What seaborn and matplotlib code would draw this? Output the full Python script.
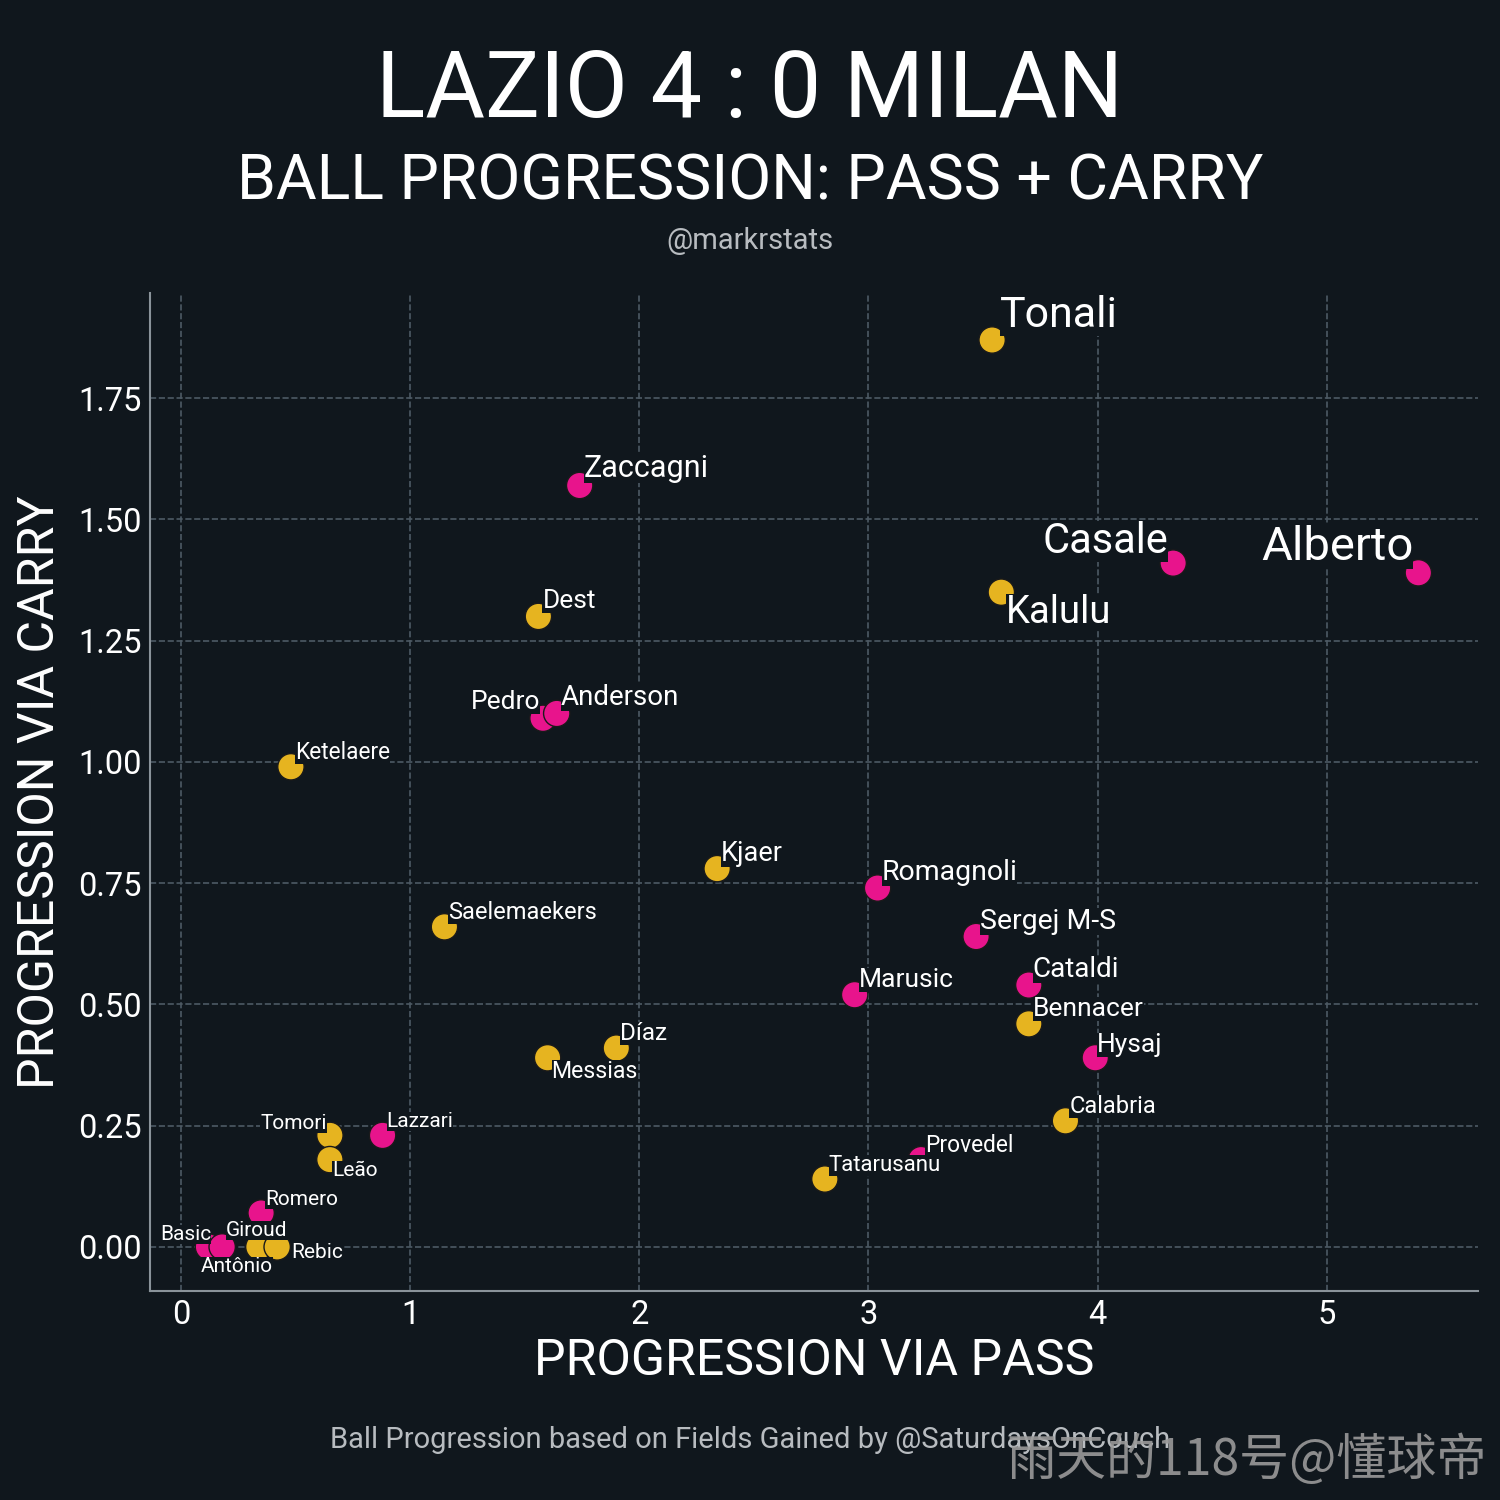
import numpy as np
import pandas as pd
import matplotlib
matplotlib.use('Agg')
import matplotlib.pyplot as plt
import seaborn as sns

###################################################################################
#Data

players = ['Tonali', 'Zaccagni', 'Casale', 'Alberto', 'Kalulu', 'Dest', 'Pedro',
           'Anderson', 'Ketelaere', 'Kjaer', 'Romagnoli', 'Saelemaekers', 'Sergej M-S',
           'Cataldi', 'Marusic', 'Bennacer', 'Díaz', 'Messias', 'Hysaj', 'Calabria',
           'Provedel', 'Tatarusanu', 'Tomori', 'Leão', 'Lazzari', 'Romero', 'Basic',
           'Antônio', 'Giroud', 'Rebic']
via_pass = [3.54, 1.74, 4.33, 5.40, 3.58, 1.56, 1.58,
            1.64, 0.48, 2.34, 3.04, 1.15, 3.47,
            3.70, 2.94, 3.70, 1.90, 1.60, 3.99, 3.86,
            3.23, 2.81, 0.65, 0.65, 0.88, 0.35, 0.12,
            0.18, 0.34, 0.42]
via_carry = [1.87, 1.57, 1.41, 1.39, 1.35, 1.30, 1.09,
             1.10, 0.99, 0.78, 0.74, 0.66, 0.64,
             0.54, 0.52, 0.46, 0.41, 0.39, 0.39, 0.26,
             0.18, 0.14, 0.23, 0.18, 0.23, 0.07, 0.0,
             0.0, 0.0, 0.0]
team = ['Milan', 'Lazio', 'Lazio', 'Lazio', 'Milan', 'Milan', 'Lazio',
        'Lazio', 'Milan', 'Milan', 'Lazio', 'Milan', 'Lazio',
        'Lazio', 'Lazio', 'Milan', 'Milan', 'Milan', 'Lazio', 'Milan',
        'Lazio', 'Milan', 'Milan', 'Milan', 'Lazio', 'Lazio', 'Lazio',
        'Lazio', 'Milan', 'Milan']

df = pd.DataFrame({'player': players, 'pass': via_pass, 'carry': via_carry, 'team': team})

###################################################################################
#Label styling: font size and (dx, dy in pixels, ha)

sizes = {'Tonali': 31, 'Alberto': 34, 'Casale': 30, 'Kalulu': 27.5,
         'Zaccagni': 22, 'Romagnoli': 20.5, 'Sergej M-S': 20.5, 'Anderson': 20,
         'Cataldi': 20, 'Kjaer': 19.5, 'Dest': 19,
         'Ketelaere': 16.3, 'Saelemaekers': 17, 'Díaz': 17.5, 'Messias': 16.6,
         'Calabria': 17, 'Provedel': 16.4, 'Tatarusanu': 16,
         'Tomori': 15, 'Lazzari': 15, 'Leão': 15, 'Romero': 15, 'Basic': 15,
         'Giroud': 15, 'Antônio': 15, 'Rebic': 15}
offsets = {'Tonali': (8, 13, 'left'), 'Alberto': (-5, 13, 'right'),
           'Casale': (-5, 10, 'right'), 'Kalulu': (5, -31, 'left'),
           'Pedro': (-3, 9, 'right'), 'Messias': (4, -20, 'left'),
           'Tomori': (-3, 6, 'right'), 'Leão': (2, -16, 'left'),
           'Basic': (3, 7, 'right'), 'Giroud': (-2, 11, 'center'),
           'Antônio': (15, -25, 'center'), 'Rebic': (14, -11, 'left'),
           'Hysaj': (2, 6, 'left')}

bg = '#10171d'
yellow = '#e6b420'
pink = '#e8148c'

sns.set_style('dark')
plt.rcParams['font.family'] = ['Roboto', 'DejaVu Sans']
plt.rcParams['text.color'] = 'white'

fig = plt.figure(figsize=(15, 15), dpi=100, facecolor=bg)
ax = fig.add_axes([0.1, 0.1393, 0.8853, 0.6654])
ax.set_facecolor(bg)

sns.scatterplot(data=df, x='pass', y='carry', hue='team',
                palette={'Lazio': pink, 'Milan': yellow},
                s=360, edgecolor='#1a1a1a', linewidth=1, legend=False, ax=ax, zorder=3)

for _, r in df.iterrows():
    fs = sizes.get(r['player'], 19)
    dx, dy, ha = offsets.get(r['player'], (4, 8, 'left'))
    ax.annotate(r['player'], (r['pass'], r['carry']), xytext=(dx, dy),
                textcoords='offset pixels', ha=ha, va='baseline',
                fontsize=fs, color='white', zorder=4,
                bbox=dict(facecolor=bg, edgecolor='none', pad=0))

ax.set_xlim(-0.135, 5.66)
ax.set_ylim(-0.091, 1.967)
ax.set_xticks(range(0, 6))
ax.set_yticks([0, 0.25, 0.5, 0.75, 1.0, 1.25, 1.5, 1.75])
ax.set_yticklabels(['0.00', '0.25', '0.50', '0.75', '1.00', '1.25', '1.50', '1.75'])
ax.tick_params(colors='white', labelsize=23.5, length=0, pad=6)
ax.grid(True, color='#4d5a64', linestyle='--', linewidth=1.2)
for side in ['top', 'right']:
    ax.spines[side].set_visible(False)
for side in ['left', 'bottom']:
    ax.spines[side].set_visible(True)
    ax.spines[side].set_color('#8a939a')
    ax.spines[side].set_linewidth(1.5)

ax.set_xlabel('PROGRESSION VIA PASS', fontsize=36, color='white', labelpad=4)
ax.set_ylabel('PROGRESSION VIA CARRY', fontsize=36, color='white', labelpad=10)

fig.text(0.5, 0.922, 'LAZIO 4 : 0 MILAN', ha='center', va='baseline', fontsize=66, color='white')
fig.text(0.5, 0.867, 'BALL PROGRESSION: PASS + CARRY', ha='center', va='baseline',
         fontsize=45, color='white')
fig.text(0.5, 0.834, '@markrstats', ha='center', va='baseline', fontsize=21, color='#b8bcc0')
fig.text(0.5, 0.035, 'Ball Progression based on Fields Gained by @SaturdaysOnCouch',
         ha='center', va='baseline', fontsize=21, color='#b8bcc0')
fig.text(0.991, 0.017, '雨天的118号@懂球帝', ha='right', va='baseline', fontsize=36,
         color='#9a9a9a', alpha=0.9, family=['Noto Sans CJK SC', 'DejaVu Sans'])

fig.savefig('out.png', dpi=100, facecolor=bg)
